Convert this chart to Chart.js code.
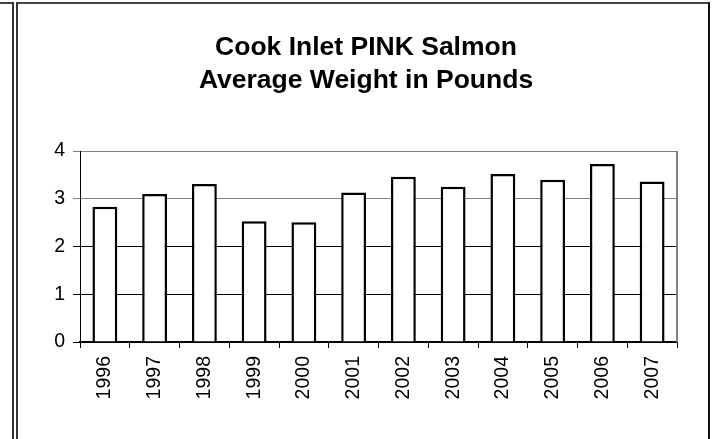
<!DOCTYPE html>
<html>
<head>
<meta charset="utf-8">
<script src="https://cdn.jsdelivr.net/npm/chart.js@4.4.0/dist/chart.umd.min.js"></script>
<style>
  html, body { margin: 0; padding: 0; background: #fff; }
  #wrap { position: relative; width: 715px; height: 439px; overflow: hidden; }
  #c { position: absolute; left: 0; top: 0; }
  .ln { position: absolute; }
</style>
</head>
<body>
<div id="wrap">
  <canvas id="c" width="715" height="439"></canvas>
  <div class="ln" style="left:0;top:2px;width:14px;height:2px;background:#444"></div>
  <div class="ln" style="left:12px;top:2px;width:2px;height:437px;background:#333"></div>
  <div class="ln" style="left:16px;top:2px;width:694px;height:2px;background:#444"></div>
  <div class="ln" style="left:16px;top:2px;width:2px;height:437px;background:#333"></div>
  <div class="ln" style="left:708px;top:2px;width:2px;height:437px;background:#111"></div>
</div>
<script>
const titleLines = ["Cook Inlet PINK Salmon", "Average Weight in Pounds"];
const years = ["1996","1997","1998","1999","2000","2001","2002","2003","2004","2005","2006","2007"];
const avgWeight = [2.83, 3.10, 3.31, 2.53, 2.51, 3.13, 3.46, 3.25, 3.52, 3.40, 3.73, 3.36];
const yTicks = [0, 1, 2, 3, 4];

const FONT = "Arial, 'Liberation Sans', sans-serif";

const titlePlugin = {
  id: 'twoLineTitle',
  afterDraw(chart) {
    const ctx = chart.ctx;
    ctx.save();
    ctx.fillStyle = '#000';
    ctx.font = "bold 26.5px " + FONT;
    ctx.textAlign = 'center';
    ctx.textBaseline = 'alphabetic';
    ctx.fillText(titleLines[0], 366, 55);
    ctx.fillText(titleLines[1], 366, 88);
    ctx.restore();
  }
};

const framePlugin = {
  id: 'plotFrame',
  afterDraw(chart) {
    const a = chart.chartArea;
    const ctx = chart.ctx;
    ctx.save();
    ctx.strokeStyle = '#808080';
    ctx.lineWidth = 2;
    ctx.beginPath();
    ctx.moveTo(a.right, a.top);
    ctx.lineTo(a.right, a.bottom);
    ctx.stroke();
    ctx.restore();
  }
};

new Chart(document.getElementById('c'), {
  type: 'bar',
  data: {
    labels: years,
    datasets: [{
      data: avgWeight,
      backgroundColor: '#ffffff',
      borderColor: '#000000',
      borderWidth: 2.5,
      borderSkipped: 'start',
      barPercentage: 0.5,
      categoryPercentage: 1.0
    }]
  },
  options: {
    responsive: false,
    animation: false,
    devicePixelRatio: 1,
    layout: { padding: { left: 0, right: 38, top: 151, bottom: 37 } },
    plugins: { legend: { display: false }, title: { display: false }, tooltip: { enabled: false } },
    scales: {
      x: {
        offset: true,
        grid: { display: true, drawOnChartArea: false, drawTicks: true, tickLength: 6, offset: true, color: '#000', lineWidth: 1 },
        border: { display: true, color: '#000', width: 1.5 },
        ticks: { color: '#000', font: { family: FONT, size: 19.5 }, minRotation: 90, maxRotation: 90, padding: 8, autoSkip: false },
        afterFit(scale) { scale.height = 60; }
      },
      y: {
        min: 0, max: 4,
        afterBuildTicks(scale) { scale.ticks = yTicks.map(v => ({ value: v })); },
        grid: {
          drawTicks: true, tickLength: 7, lineWidth: 1,
          color: (c) => (c.tick && c.tick.value >= 3) ? '#808080' : '#000'
        },
        border: { display: true, color: '#000', width: 1 },
        ticks: { color: '#000', font: { family: FONT, size: 19.5 }, padding: 8 },
        afterFit(scale) { scale.width = 80; }
      }
    }
  },
  plugins: [titlePlugin, framePlugin]
});
</script>
</body>
</html>
